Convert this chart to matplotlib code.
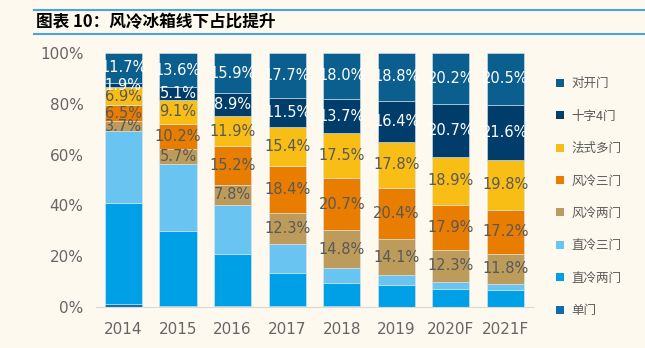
import matplotlib.pyplot as plt
from matplotlib.lines import Line2D
from matplotlib.patches import Patch

plt.rcParams['font.family'] = ['Noto Sans CJK SC', 'DejaVu Sans']

years = ['2014', '2015', '2016', '2017', '2018', '2019', '2020F', '2021F']
categories = ['单门', '直冷两门', '直冷三门', '风冷两门', '风冷三门', '法式多门', '十字4门', '对开门']

# share of each type (%), bottom to top
single_door = [1.0, 0.4, 0.3, 0.2, 0.2, 0.1, 0.1, 0.1]
direct_two = [39.8, 29.5, 20.6, 13.2, 9.2, 8.6, 7.0, 6.6]
direct_three = [28.5, 26.4, 19.4, 11.3, 5.9, 3.8, 2.9, 2.4]
air_two = [3.7, 5.7, 7.8, 12.3, 14.8, 14.1, 12.3, 11.8]
air_three = [6.5, 10.2, 15.2, 18.4, 20.7, 20.4, 17.9, 17.2]
french = [6.9, 9.1, 11.9, 15.4, 17.5, 17.8, 18.9, 19.8]
cross_four = [1.9, 5.1, 8.9, 11.5, 13.7, 16.4, 20.7, 21.6]
side_by_side = [11.7, 13.6, 15.9, 17.7, 18.0, 18.8, 20.2, 20.5]

series = [single_door, direct_two, direct_three, air_two, air_three, french, cross_four, side_by_side]
colors = ['#0a6cb2', '#00a0e6', '#6ac4f2', '#bd9b5a', '#e97d00', '#f9be15', '#003d6b', '#0b5f8e']
labeled = [False, False, False, True, True, True, True, True]
label_colors = [None, None, None, '#595959', '#595959', '#595959', 'white', 'white']

bg = '#fdf9ee'
fig = plt.figure(figsize=(6.45, 3.48), dpi=100, facecolor=bg)
ax = fig.add_axes([0.149, 0.118, 0.677, 0.73], facecolor=bg)

x = range(len(years))
bottom = [0.0] * len(years)
for vals, c, lab, lc in zip(series, colors, labeled, label_colors):
    ax.bar(x, vals, bottom=bottom, width=0.68, color=c, edgecolor='#d8e8f0', linewidth=0.4)
    if lab:
        for i, v in enumerate(vals):
            ax.text(i, bottom[i] + v / 2, f'{v:.1f}%', ha='center', va='center',
                    fontsize=10.5, color=lc, family='DejaVu Sans')
    bottom = [b + v for b, v in zip(bottom, vals)]

ax.set_xlim(-0.5, 7.5)
ax.set_ylim(0, 100)
ax.set_xticks(list(x))
ax.set_xticklabels(years, fontsize=11, color='#666666', family='DejaVu Sans')
ax.set_yticks([0, 20, 40, 60, 80, 100])
ax.set_yticklabels([f'{t}%' for t in [0, 20, 40, 60, 80, 100]], fontsize=11,
                   color='#666666', family='DejaVu Sans')
ax.tick_params(axis='x', length=0, pad=11)
ax.tick_params(axis='y', length=0, pad=9)
for s in ['top', 'right', 'left']:
    ax.spines[s].set_visible(False)
ax.spines['bottom'].set_color('#d9d9d9')

handles = [Patch(facecolor=c, label=n) for c, n in zip(colors, categories)][::-1]
fig.legend(handles=handles, loc='upper left', bbox_to_anchor=(0.845, 0.81),
           frameon=False, fontsize=9, labelcolor='#595959', handlelength=0.6,
           handleheight=0.6, handletextpad=0.6, labelspacing=1.55)

# title with rules above and below
fig.add_artist(Line2D([0.053, 1.0], [0.971, 0.971], color='#4aa3df', lw=1.5))
fig.add_artist(Line2D([0.053, 1.0], [0.902, 0.902], color='#4aa3df', lw=1.5))
fig.text(0.056, 0.937, '图表 10：风冷冰箱线下占比提升', fontsize=12, fontweight='bold',
         va='center', ha='left', color='black')

fig.savefig('out.png', dpi=100, facecolor=bg)
